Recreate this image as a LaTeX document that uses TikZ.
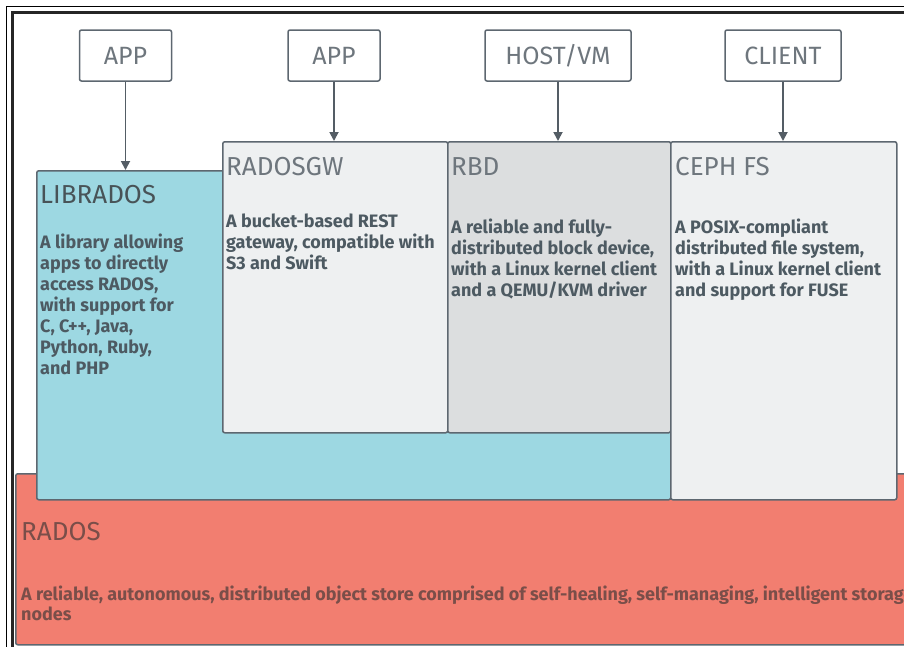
\documentclass[tikz,border=0pt]{standalone}
\usepackage{fontspec}
\setmainfont{Fira Sans}
\usetikzlibrary{positioning}
\usetikzlibrary{arrows.meta}
\definecolor{edgegray}{HTML}{5D6770}
\definecolor{libteal}{HTML}{9DD8E2}
\definecolor{paleface}{HTML}{EEF0F1}
\definecolor{midface}{HTML}{DCDEDF}
\definecolor{radosred}{HTML}{F27E70}
\definecolor{labelgray}{HTML}{6E767D}
\definecolor{bodygray}{HTML}{4D5A62}
\definecolor{radosink}{HTML}{7A4E49}
\tikzset{
    layer/.style={draw=edgegray, line width=1.5pt, rounded corners=2pt, anchor=north west, inner sep=0pt},
    userbox/.style={draw=edgegray, line width=1.5pt, rounded corners=2pt, text=labelgray,
        font=\fontsize{25}{27}\selectfont, minimum height=51pt, inner sep=0pt},
    title/.style={anchor=base west, inner sep=0pt, text=labelgray, font=\fontsize{26}{28}\selectfont},
    blurb/.style={anchor=north west, inner sep=0pt, align=left, text=bodygray,
        font=\bfseries\fontsize{18}{21}\selectfont},
    feed/.style={-{Triangle[length=9pt,width=9pt]}, line width=1.8pt, draw=edgegray!90!black},
}

\begin{document}
\begin{tikzpicture}[x=1pt, y=-1pt]
    \useasboundingbox (0,0) rectangle (904,646);
    \clip (0,0) rectangle (904,646);

    % users on top
    \node[userbox, minimum width=92pt] (app1) at (125.5,55.5) {APP};
    \node[userbox, minimum width=92pt] (app2) at (334,55.5) {APP};
    \node[userbox, minimum width=146pt] (host) at (558,55.5) {HOST/VM};
    \node[userbox, minimum width=116pt] (client) at (783,55.5) {CLIENT};

    % layers
    \node[layer, fill=radosred, minimum width=920pt, minimum height=171pt] (rados) at (15,473) {};
    \node[layer, fill=libteal, minimum width=634pt, minimum height=329pt] (librados) at (36,170) {};
    \node[layer, fill=paleface, minimum width=225pt, minimum height=291pt] (radosgw) at (222,141) {};
    \node[layer, fill=midface, minimum width=223pt, minimum height=291pt] (rbd) at (447,141) {};
    \node[layer, fill=paleface, minimum width=226pt, minimum height=358pt] (cephfs) at (670,141) {};

    % texts
    \node[title, text=radosink] (radosname) at (21,540) {RADOS};
    \node[blurb, text=radosink, font=\bfseries\fontsize{18}{20}\selectfont] (radostext) at (21,586)
        {A reliable, autonomous, distributed object store comprised of self-healing, self-managing, intelligent storage\\nodes};
    \node[title, text=labelgray!80!libteal!60!black] (libname) at (40,203) {LIBRADOS};
    \node[blurb] (libtext) at (40,234)
        {A library allowing\\apps to directly\\access RADOS,\\with support for\\C, C++, Java,\\Python, Ruby,\\and PHP};
    \node[title] (gwname) at (226,175) {RADOSGW};
    \node[blurb] (gwtext) at (226,214)
        {A bucket-based REST\\gateway, compatible with\\S3 and Swift};
    \node[title] (rbdname) at (451,175) {RBD};
    \node[blurb] (rbdtext) at (451,219)
        {A reliable and fully-\\distributed block device,\\with a Linux kernel client\\and a QEMU/KVM driver};
    \node[title] (fsname) at (675,175) {CEPH FS};
    \node[blurb] (fstext) at (675,219)
        {A POSIX-compliant\\distributed file system,\\with a Linux kernel client\\and support for FUSE};

    % arrows
    \draw[feed] (app1) -- (app1 |- librados.north);
    \draw[feed] (app2) -- (app2 |- radosgw.north);
    \draw[feed] (host) -- (host |- rbd.north);
    \draw[feed] (client) -- (client |- cephfs.north);

    % screenshot frame
    \draw[line width=0.8pt, black] (6.5,660) -- (6.5,6.5) -- (920,6.5);
    \draw[line width=3pt, black!85] (12.5,660) -- (12.5,12.5) -- (920,12.5);
\end{tikzpicture}
\end{document}
